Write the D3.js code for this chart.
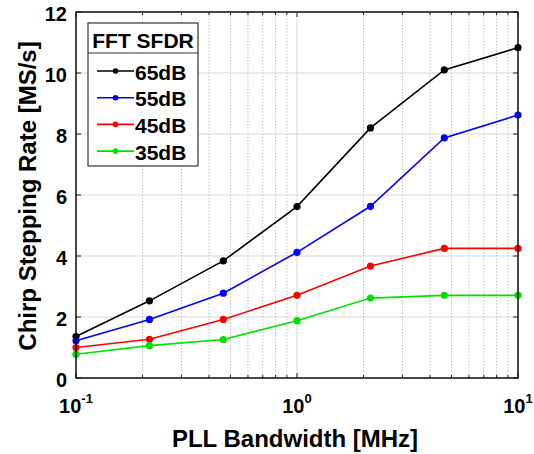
<!DOCTYPE html>
<html><head><meta charset="utf-8">
<script src="https://cdn.jsdelivr.net/npm/d3@7"></script>
<style>body{margin:0;background:#fff}svg{display:block}text{font-family:"Liberation Sans",Arial,sans-serif;font-weight:bold;fill:#000}</style>
</head><body><svg id="c" width="534" height="454"></svg>
<script>
const bandwidth = [0.1, 0.215, 0.464, 1, 2.15, 4.64, 10];
const s65 = [1.36, 2.53, 3.84, 5.62, 8.2, 10.1, 10.83];
const s55 = [1.22, 1.92, 2.78, 4.12, 5.63, 7.87, 8.62];
const s45 = [1.0, 1.27, 1.92, 2.71, 3.67, 4.25, 4.25];
const s35 = [0.78, 1.06, 1.26, 1.88, 2.62, 2.71, 2.71];
const seriesNames = ["65dB", "55dB", "45dB", "35dB"];
const seriesColors = ["#000000", "#0000ff", "#ff0000", "#00e000"];
const yTicks = [0, 2, 4, 6, 8, 10, 12];
const xMajor = [0.1, 1, 10];
const xExp = ["-1", "0", "1"];
const legendTitle = "FFT SFDR";
const xLabel = "PLL Bandwidth [MHz]";
const yLabel = "Chirp Stepping Rate [MS/s]";

const allSeries = [s65, s55, s45, s35];
const L = 76, R = 518, T = 12, B = 378;
const svg = d3.select("#c");
const x = d3.scaleLog().domain([0.1, 10]).range([L, R]);
const y = d3.scaleLinear().domain([0, 12]).range([B, T]);

const xMinor = [];
for (let d = 0.1; d < 10; d *= 10) for (let k = 2; k <= 9; k++) xMinor.push(+(d * k).toFixed(3));

const g = svg.append("g");
g.selectAll(".xmin").data(xMinor).enter().append("line")
  .attr("x1", d => x(d)).attr("x2", d => x(d)).attr("y1", T).attr("y2", B)
  .attr("stroke", "#b0b0b0").attr("stroke-width", 1).attr("stroke-dasharray", "1.2,2");
g.selectAll(".xmaj").data(xMajor).enter().append("line")
  .attr("x1", d => x(d)).attr("x2", d => x(d)).attr("y1", T).attr("y2", B)
  .attr("stroke", "#d8d8d8").attr("stroke-width", 1);
g.selectAll(".ymaj").data(yTicks).enter().append("line")
  .attr("x1", L).attr("x2", R).attr("y1", d => y(d)).attr("y2", d => y(d))
  .attr("stroke", "#d8d8d8").attr("stroke-width", 1.2);

const tk = g.append("g").attr("stroke", "#222").attr("stroke-width", 1);
xMinor.forEach(d => {
  tk.append("line").attr("x1", x(d)).attr("x2", x(d)).attr("y1", B).attr("y2", B - 3);
  tk.append("line").attr("x1", x(d)).attr("x2", x(d)).attr("y1", T).attr("y2", T + 3);
});
xMajor.forEach(d => {
  tk.append("line").attr("x1", x(d)).attr("x2", x(d)).attr("y1", B).attr("y2", B - 5);
  tk.append("line").attr("x1", x(d)).attr("x2", x(d)).attr("y1", T).attr("y2", T + 5);
});
yTicks.forEach(d => {
  tk.append("line").attr("x1", L).attr("x2", L + 5).attr("y1", y(d)).attr("y2", y(d));
  tk.append("line").attr("x1", R).attr("x2", R - 5).attr("y1", y(d)).attr("y2", y(d));
});

const line = d3.line().x((d, i) => x(bandwidth[i])).y(d => y(d));
allSeries.forEach((s, k) => {
  svg.append("path").datum(s).attr("d", line).attr("fill", "none")
    .attr("stroke", seriesColors[k]).attr("stroke-width", 1.6);
  svg.selectAll(null).data(s).enter().append("circle")
    .attr("cx", (d, i) => x(bandwidth[i])).attr("cy", d => y(d)).attr("r", 3.6)
    .attr("fill", seriesColors[k]);
});

svg.append("rect").attr("x", L).attr("y", T).attr("width", R - L).attr("height", B - T)
  .attr("fill", "none").attr("stroke", "#111").attr("stroke-width", 1.5);

svg.selectAll(".yl").data(yTicks).enter().append("text")
  .attr("x", 67).attr("y", d => y(d) + 2).attr("text-anchor", "end")
  .attr("dominant-baseline", "central").attr("font-size", 20).text(d => d);

xMajor.forEach((d, i) => {
  const t = svg.append("text").attr("x", x(d)).attr("y", 413).attr("text-anchor", "middle").attr("font-size", 20);
  t.append("tspan").text("10");
  t.append("tspan").attr("font-size", 13).attr("dy", -10).text(xExp[i]);
});

svg.append("text").attr("x", 295).attr("y", 447).attr("text-anchor", "middle").attr("font-size", 24).text(xLabel);
svg.append("text").attr("transform", "translate(36,196) rotate(-90)").attr("text-anchor", "middle")
  .attr("font-size", 24).text(yLabel);

const lg = svg.append("g");
lg.append("rect").attr("x", 88).attr("y", 23).attr("width", 110).attr("height", 143)
  .attr("fill", "#fff").attr("stroke", "#333").attr("stroke-width", 1.2);
lg.append("line").attr("x1", 88).attr("x2", 198).attr("y1", 53).attr("y2", 53).attr("stroke", "#333").attr("stroke-width", 1.2);
lg.append("text").attr("x", 143).attr("y", 40).attr("dominant-baseline", "central").attr("text-anchor", "middle")
  .attr("font-size", 21).text(legendTitle);
seriesNames.forEach((nm, k) => {
  const cy = 71 + k * 26.7;
  lg.append("line").attr("x1", 97).attr("x2", 134).attr("y1", cy).attr("y2", cy).attr("stroke", seriesColors[k]).attr("stroke-width", 1.6);
  lg.append("circle").attr("cx", 115.5).attr("cy", cy).attr("r", 2.8).attr("fill", seriesColors[k]);
  lg.append("text").attr("x", 135).attr("y", cy + 1).attr("dominant-baseline", "central").attr("font-size", 21).text(nm);
});
</script></body></html>
